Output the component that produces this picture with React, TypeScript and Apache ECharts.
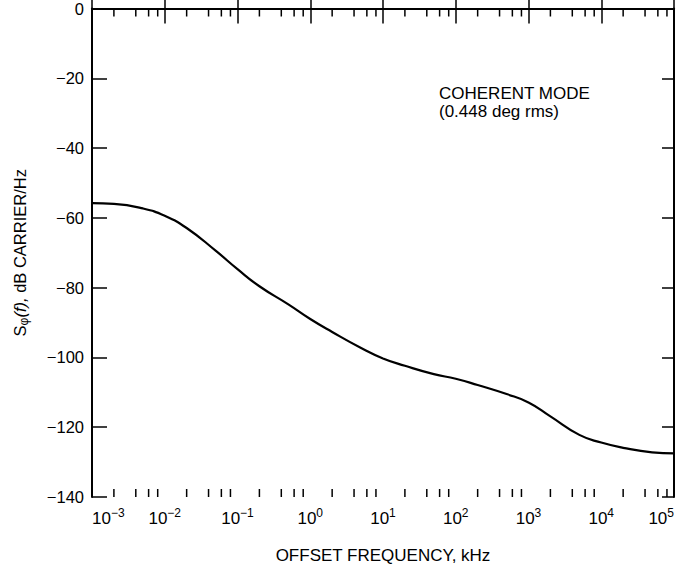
import React, { useEffect, useRef } from "react";
import * as echarts from "echarts";

// Offset frequency (kHz) and phase noise S_phi(f) (dB carrier/Hz)
const freqKHz = [1e-3, 2e-3, 5e-3, 1e-2, 2e-2, 5e-2, 1e-1, 2e-1, 5e-1, 1, 2, 5, 10, 20, 50, 100, 200, 500, 1000, 2000, 5000, 1e4, 2e4, 5e4, 1e5];
const noiseDb = [-55.8, -56.0, -57.3, -59.4, -62.9, -69.4, -74.7, -79.6, -84.8, -89.0, -92.7, -97.3, -100.3, -102.4, -104.8, -106.1, -107.9, -110.5, -112.9, -116.9, -122.2, -124.4, -125.9, -127.2, -127.5];

// Minor tick positions on the log axis (2, 4, 6, 8 of each decade)
const minorMultipliers = [2, 4, 6, 8];
const decades = [1e-3, 1e-2, 1e-1, 1, 10, 100, 1000, 1e4];
const minorTicks = decades.flatMap((d) => minorMultipliers.map((m) => m * d));

const yTicks = [0, -20, -40, -60, -80, -100, -120, -140];
const annotationLines = ["COHERENT MODE", "(0.448 deg rms)"];

const FONT = "'Liberation Sans', Arial, Helvetica, sans-serif";

export default function App() {
  const ref = useRef<HTMLDivElement>(null);

  useEffect(() => {
    if (!ref.current) return;
    const chart = echarts.init(ref.current, null, { renderer: "svg" });
    const supLabel = (v: number) => {
      const e = Math.round(Math.log10(v));
      const s = e < 0 ? "\u2212" + -e : String(e);
      return "{b|10}{s|" + s + "}";
    };
    const axisLine = { show: true, lineStyle: { color: "#000", width: 2 } };
    chart.setOption({
      animation: false,
      backgroundColor: "#fff",
      textStyle: { fontFamily: FONT, color: "#000" },
      grid: { left: 92, right: 2, top: 7, bottom: 67, containLabel: false },
      xAxis: [
        {
          type: "log",
          logBase: 10,
          min: 1e-3,
          max: 1e5,
          position: "bottom",
          axisLine,
          axisTick: { show: true, inside: true, length: 15, lineStyle: { color: "#000", width: 1.5 } },
          splitLine: { show: false },
          axisLabel: {
            show: true,
            margin: 10,
            color: "#000",
            fontFamily: FONT,
            alignMinLabel: "left",
            alignMaxLabel: "right",
            showMinLabel: true,
            showMaxLabel: true,
            formatter: supLabel,
            rich: {
              b: { fontSize: 17, lineHeight: 22, fontFamily: FONT, color: "#000" },
              s: { fontSize: 12, lineHeight: 10, verticalAlign: "top", fontFamily: FONT, color: "#000" },
            },
          },
          name: "OFFSET FREQUENCY, kHz",
          nameLocation: "middle",
          nameGap: 50,
          nameTextStyle: { fontSize: 17, color: "#000", fontFamily: FONT },
        },
        {
          type: "log",
          logBase: 10,
          min: 1e-3,
          max: 1e5,
          position: "top",
          axisLine,
          axisTick: { show: true, inside: true, length: 15, lineStyle: { color: "#000", width: 1.5 } },
          axisLabel: { show: false },
          splitLine: { show: false },
        },
      ],
      yAxis: [
        {
          type: "value",
          min: -140,
          max: 0,
          interval: 20,
          position: "left",
          axisLine,
          axisTick: { show: true, inside: true, length: 15, lineStyle: { color: "#000", width: 1.5 } },
          splitLine: { show: false },
          axisLabel: {
            margin: 8,
            fontSize: 16.5,
            color: "#000",
            fontFamily: FONT,
            formatter: (v: number) => (yTicks.includes(v) ? (v < 0 ? "\u2212" + -v : String(v)) : ""),
          },
          name: "{n|S}{sub|\u03c6}{i|(f),} dB CARRIER/Hz",
          nameLocation: "middle",
          nameGap: 62,
          nameRotate: 90,
          nameTextStyle: {
            fontSize: 16.5,
            color: "#000",
            fontFamily: FONT,
            rich: {
              n: { fontSize: 16.5, lineHeight: 20, fontFamily: FONT, color: "#000" },
              sub: { fontSize: 12, lineHeight: 9, verticalAlign: "bottom", fontFamily: FONT, color: "#000" },
              i: { fontSize: 16.5, lineHeight: 20, fontStyle: "italic", fontFamily: FONT, color: "#000" },
            },
          },
        },
        {
          type: "value",
          min: -140,
          max: 0,
          interval: 20,
          position: "right",
          axisLine,
          axisTick: { show: true, inside: true, length: 12, lineStyle: { color: "#000", width: 1.5 } },
          axisLabel: { show: false },
          splitLine: { show: false },
        },
      ],
      graphic: [
        {
          type: "text",
          left: 439,
          top: 84,
          style: {
            text: annotationLines.join("\n"),
            fontSize: 17,
            lineHeight: 18,
            fontFamily: FONT,
            fill: "#000",
          },
        },
      ],
      series: [
        {
          type: "line",
          xAxisIndex: 0,
          yAxisIndex: 0,
          data: freqKHz.map((f, i) => [f, noiseDb[i]]),
          smooth: 0.5,
          showSymbol: false,
          symbol: "none",
          lineStyle: { color: "#000", width: 2.2 },
          clip: true,
        },
        {
          type: "custom",
          xAxisIndex: 0,
          yAxisIndex: 0,
          data: minorTicks.map((f) => [f, -140]),
          encode: { x: 0, y: 1 },
          silent: true,
          renderItem: (params: any, api: any) => {
            const f = api.value(0);
            const b = api.coord([f, -140]);
            const t = api.coord([f, 0]);
            const style = { stroke: "#000", lineWidth: 1.5 };
            return {
              type: "group",
              children: [
                { type: "line", shape: { x1: b[0], y1: b[1], x2: b[0], y2: b[1] - 8 }, style },
                { type: "line", shape: { x1: t[0], y1: t[1], x2: t[0], y2: t[1] + 8 }, style },
              ],
            };
          },
        },
      ],
    });
    return () => chart.dispose();
  }, []);

  return (
    <div
      ref={ref}
      style={{ position: "fixed", left: 0, top: 0, width: 677, height: 569, background: "#fff" }}
    />
  );
}
